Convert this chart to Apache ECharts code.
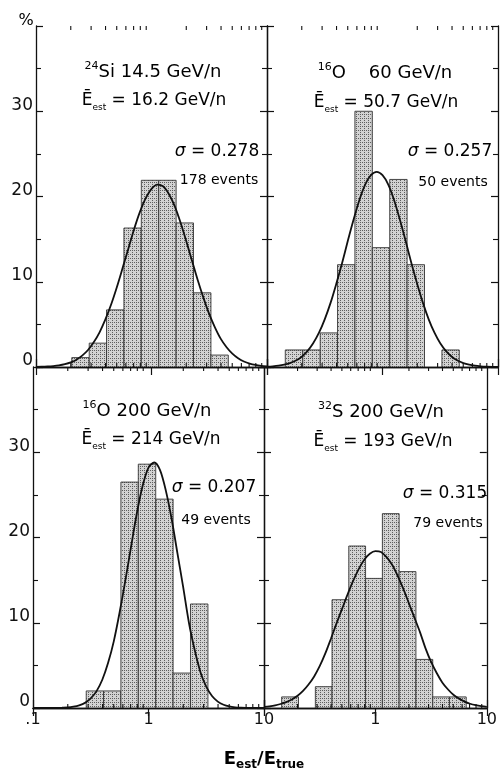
<!DOCTYPE html>
<html><head><meta charset="utf-8">
<script src="https://cdn.jsdelivr.net/npm/echarts@6/dist/echarts.min.js"></script>
<style>html,body{margin:0;padding:0;background:#fff}#c{width:500px;height:776px}</style>
</head><body><div id="c"></div><script>
// ---------- DATA ----------
// histogram bin edges in E_est/E_true (successive factors of sqrt 2)
const binEdges = [0.144, 0.204, 0.289, 0.408, 0.577, 0.816, 1.155, 1.633, 2.31, 3.27, 4.62, 6.53];
// percent of events per bin (bin k spans binEdges[k]..binEdges[k+1])
const si14Pct  = [0, 1.1, 2.8, 6.7, 16.3, 21.9, 21.9, 16.9, 8.7, 1.4, 0];
const o60Pct   = [2, 2, 4, 12, 30, 14, 22, 12, 0, 2, 0];
const o200Pct  = [0, 0, 2, 2, 26.5, 28.6, 24.5, 4.1, 12.2, 0, 0];
const s200Pct  = [1.3, 0, 2.5, 12.7, 19.0, 15.2, 22.8, 16.0, 5.7, 1.3, 1.3];
// fitted curves at these abscissae
const curveX = [0.1, 0.112, 0.126, 0.141, 0.158, 0.178, 0.2, 0.224, 0.251, 0.282,
                0.316, 0.355, 0.398, 0.447, 0.501, 0.562, 0.631, 0.708, 0.794, 0.891,
                1, 1.122, 1.259, 1.413, 1.585, 1.778, 1.995, 2.239, 2.512, 2.818,
                3.162, 3.548, 3.981, 4.467, 5.012, 5.623, 6.31, 7.079, 7.943, 8.913, 10];
const si14Fit = [0.02, 0.03, 0.06, 0.11, 0.19, 0.33, 0.54, 0.86, 1.33, 1.99,
                 2.9, 4.07, 5.55, 7.33, 9.36, 11.6, 13.9, 16.2, 18.2, 19.8,
                 20.9, 21.4, 21.2, 20.3, 18.9, 17.0, 14.8, 12.5, 10.2, 8.11,
                 6.2, 4.63, 3.3, 2.32, 1.57, 1.03, 0.65, 0.4, 0.24, 0.14, 0.08];
const o60Fit  = [0.04, 0.08, 0.15, 0.27, 0.46, 0.76, 1.21, 1.87, 2.78, 4.02,
                 5.59, 7.52, 9.76, 12.2, 14.8, 17.3, 19.6, 21.4, 22.5, 22.9,
                 22.5, 21.4, 19.6, 17.3, 14.8, 12.2, 9.76, 7.52, 5.59, 4.02,
                 2.78, 1.87, 1.21, 0.76, 0.46, 0.27, 0.15, 0.08, 0.04, 0.02, 0.01];
const o200Fit = [0, 0, 0, 0, 0.01, 0.03, 0.06, 0.15, 0.31, 0.6,
                 1.12, 1.98, 3.31, 5.3, 7.85, 11.2, 15.0, 19.0, 22.9, 26.1,
                 28.2, 28.8, 27.9, 25.5, 22.2, 18.2, 14.2, 10.0, 6.8, 4.2,
                 2.5, 1.4, 0.75, 0.38, 0.18, 0.08, 0.03, 0.01, 0, 0, 0];
const s200Fit = [0.12, 0.19, 0.3, 0.47, 0.69, 1.0, 1.43, 2.0, 2.75, 3.7,
                 4.9, 6.4, 8.1, 9.9, 11.6, 13.3, 14.9, 16.3, 17.4, 18.1,
                 18.4, 18.3, 17.7, 16.8, 15.5, 14.0, 12.3, 10.6, 8.9, 7.0,
                 5.4, 4.1, 3.0, 2.2, 1.55, 1.1, 0.75, 0.5, 0.33, 0.21, 0.13];
// axis ticks
const minorTicksX = [0.2, 0.3, 0.4, 0.5, 0.6, 0.7, 0.8, 0.9, 2, 3, 4, 5, 6, 7, 8, 9];
const xTickLabels = {'0.1': '.1', '1': '1', '10': '10'};
// panel texts
const ionLabels  = [['24', 'Si 14.5 GeV/n'], ['16', 'O    60 GeV/n'], ['16', 'O 200 GeV/n'], ['32', 'S 200 GeV/n']];
const estLabels  = [' = 16.2 GeV/n', ' = 50.7 GeV/n', ' = 214 GeV/n', ' = 193 GeV/n'];
const sigmaLabels = ['0.278', '0.257', '0.207', '0.315'];
const eventLabels = ['178 events', '50 events', '49 events', '79 events'];

const pcts = [si14Pct, o60Pct, o200Pct, s200Pct];
const fits = [si14Fit, o60Fit, o200Fit, s200Fit];

// ---------- STYLE / LAYOUT ----------
const FONT = '"DejaVu Sans", "Liberation Sans", Arial, sans-serif';
const INK = '#111';
const grids = [
  {left: 36, top: 26, width: 231, height: 341},
  {left: 267, top: 26, width: 231, height: 341},
  {left: 33, top: 367, width: 231, height: 341},
  {left: 264, top: 367, width: 231, height: 341}
];
const textPos = [
  {t: [153, 72], e: [154, 101], s: [217, 152], n: [219, 180]},
  {t: [385, 73], e: [386, 103], s: [450, 152], n: [453, 182]},
  {t: [147, 411], e: [151, 440], s: [214, 488], n: [216, 520]},
  {t: [381, 412], e: [383, 442], s: [445, 494], n: [448, 523]}
];

// stipple pattern
const pc = document.createElement('canvas'); pc.width = 4; pc.height = 4;
const g = pc.getContext('2d');
g.fillStyle = '#d2d2d2'; g.fillRect(0, 0, 4, 4);
g.fillStyle = '#5e5e5e'; g.fillRect(0, 0, 1, 1); g.fillRect(2, 2, 1, 1); g.fillRect(0, 2, 1, 1);
const stipple = {image: pc, repeat: 'repeat'};

function fmtX(i) {
  return function (v) {
    const key = Math.abs(v - 0.1) < 1e-6 ? '0.1' : (Math.abs(v - 1) < 1e-6 ? '1' : '10');
    if (i === 3 && key === '0.1') return '';
    return xTickLabels[key];
  };
}

const xAxes = [], yAxes = [], series = [];
grids.forEach(function (gr, i) {
  xAxes.push({
    gridIndex: i, type: 'log', logBase: 10, min: 0.1, max: 10, position: 'bottom',
    axisLine: {show: true, lineStyle: {color: INK, width: 1.3}},
    axisTick: {show: true, inside: true, length: 8, lineStyle: {color: INK, width: 1.2}},
    axisLabel: {show: i >= 2, formatter: fmtX(i), fontFamily: FONT, fontSize: 16, color: INK, margin: 4, showMinLabel: true, showMaxLabel: true},
    splitLine: {show: false}
  });
});
grids.forEach(function (gr, i) {
  xAxes.push({
    gridIndex: i, type: 'log', logBase: 10, min: 0.1, max: 10, position: 'top',
    axisLine: {show: true, lineStyle: {color: INK, width: 1.3}},
    axisTick: {show: true, inside: true, length: 8, lineStyle: {color: INK, width: 1.2}},
    axisLabel: {show: false}, splitLine: {show: false}
  });
});
grids.forEach(function (gr, i) {
  yAxes.push({
    gridIndex: i, type: 'value', min: 0, max: 40, interval: 10, position: 'left',
    axisLine: {show: true, lineStyle: {color: INK, width: 1.3}},
    axisTick: {show: true, inside: true, length: 7, lineStyle: {color: INK, width: 1.2}},
    minorTick: {show: true, splitNumber: 2, length: 5, lineStyle: {color: INK, width: 1.1}},
    axisLabel: {show: i === 0 || i === 2, fontFamily: FONT, fontSize: 17, color: INK, margin: 3,
      verticalAlign: 'bottom', lineHeight: 12, formatter: function (v) { return v >= 40 ? '' : String(v); }},
    splitLine: {show: false}
  });
});
grids.forEach(function (gr, i) {
  yAxes.push({
    gridIndex: i, type: 'value', min: 0, max: 40, interval: 10, position: 'right',
    axisLine: {show: true, lineStyle: {color: INK, width: 1.3}},
    axisTick: {show: true, inside: true, length: 7, lineStyle: {color: INK, width: 1.2}},
    minorTick: {show: true, splitNumber: 2, length: 5, lineStyle: {color: INK, width: 1.1}},
    axisLabel: {show: false}, splitLine: {show: false}
  });
});

grids.forEach(function (gr, i) {
  const barData = binEdges.slice(0, -1).map(function (lo, k) { return [lo, binEdges[k + 1], pcts[i][k]]; });
  series.push({
    type: 'custom', xAxisIndex: i, yAxisIndex: i, clip: true, z: 2,
    encode: {x: [0, 1], y: 2},
    data: barData,
    renderItem: function (params, api) {
      const v = api.value(2);
      if (!(v > 0)) return null;
      const p1 = api.coord([api.value(0), v]);
      const p2 = api.coord([api.value(1), 0]);
      return {type: 'rect', shape: {x: p1[0], y: p1[1], width: p2[0] - p1[0], height: p2[1] - p1[1]},
        style: {fill: stipple, stroke: '#333', lineWidth: 0.9}};
    }
  });
  series.push({
    type: 'line', xAxisIndex: i, yAxisIndex: i, z: 5, smooth: 0.3, symbol: 'none',
    data: curveX.map(function (x, k) { return [x, fits[i][k]]; }),
    lineStyle: {color: INK, width: 1.8}
  });
  series.push({
    type: 'custom', xAxisIndex: i, yAxisIndex: i, z: 6,
    encode: {x: 0, y: 1},
    data: minorTicksX.map(function (v) { return [v, 0]; }),
    renderItem: function (params, api) {
      const v = api.value(0);
      const b = api.coord([v, 0]);
      const t = api.coord([v, 40]);
      return {type: 'group', children: [
        {type: 'line', shape: {x1: b[0], y1: b[1], x2: b[0], y2: b[1] - 4}, style: {stroke: INK, lineWidth: 1.1}},
        {type: 'line', shape: {x1: t[0], y1: t[1], x2: t[0], y2: t[1] + 4}, style: {stroke: INK, lineWidth: 1.1}}
      ]};
    }
  });
});

const RICH = {
  m: {fontSize: 17, fontFamily: FONT, color: '#000', lineHeight: 22},
  t: {fontSize: 18, fontFamily: FONT, color: '#000', lineHeight: 22},
  sup: {fontSize: 11, fontFamily: FONT, color: '#000', lineHeight: 14, verticalAlign: 'top'},
  sub: {fontSize: 9, fontFamily: FONT, color: '#000', lineHeight: 9, verticalAlign: 'bottom'},
  sg: {fontSize: 17, fontFamily: FONT, color: '#000', lineHeight: 22, fontStyle: 'italic'},
  ev: {fontSize: 14, fontFamily: FONT, color: '#000', lineHeight: 18},
  E: {fontSize: 18, fontFamily: FONT, color: '#000', fontWeight: 'bold', lineHeight: 24},
  s: {fontSize: 12, fontFamily: FONT, color: '#000', fontWeight: 'bold', lineHeight: 12, verticalAlign: 'bottom'},
  p: {fontSize: 16, fontFamily: FONT, color: '#000', lineHeight: 20}
};
const graphics = [];
function addText(pos, text) {
  graphics.push({type: 'text', x: pos[0], y: pos[1], z: 10, silent: true,
    style: {text: text, x: 0, y: 0, align: 'center', verticalAlign: 'middle', textAlign: 'center', textVerticalAlign: 'middle', rich: RICH, fill: '#000'}});
}
for (let i = 0; i < 4; i++) {
  const p = textPos[i];
  addText(p.t, '{sup|' + ionLabels[i][0] + '}{t|' + ionLabels[i][1] + '}');
  addText(p.e, '{m|Ē}{sub|est}{m|' + estLabels[i] + '}');
  addText(p.s, '{sg|σ}{m| = ' + sigmaLabels[i] + '}');
  addText(p.n, '{ev|' + eventLabels[i] + '}');
}
addText([26, 21], '{p|%}');
addText([264, 759], '{E|E}{s|est}{E|/E}{s|true}');

const chart = echarts.init(document.getElementById('c'), null, {renderer: 'canvas'});
chart.setOption({
  animation: false,
  backgroundColor: '#fff',
  grid: grids,
  xAxis: xAxes,
  yAxis: yAxes,
  series: series,
  graphic: graphics
});
</script></body></html>
